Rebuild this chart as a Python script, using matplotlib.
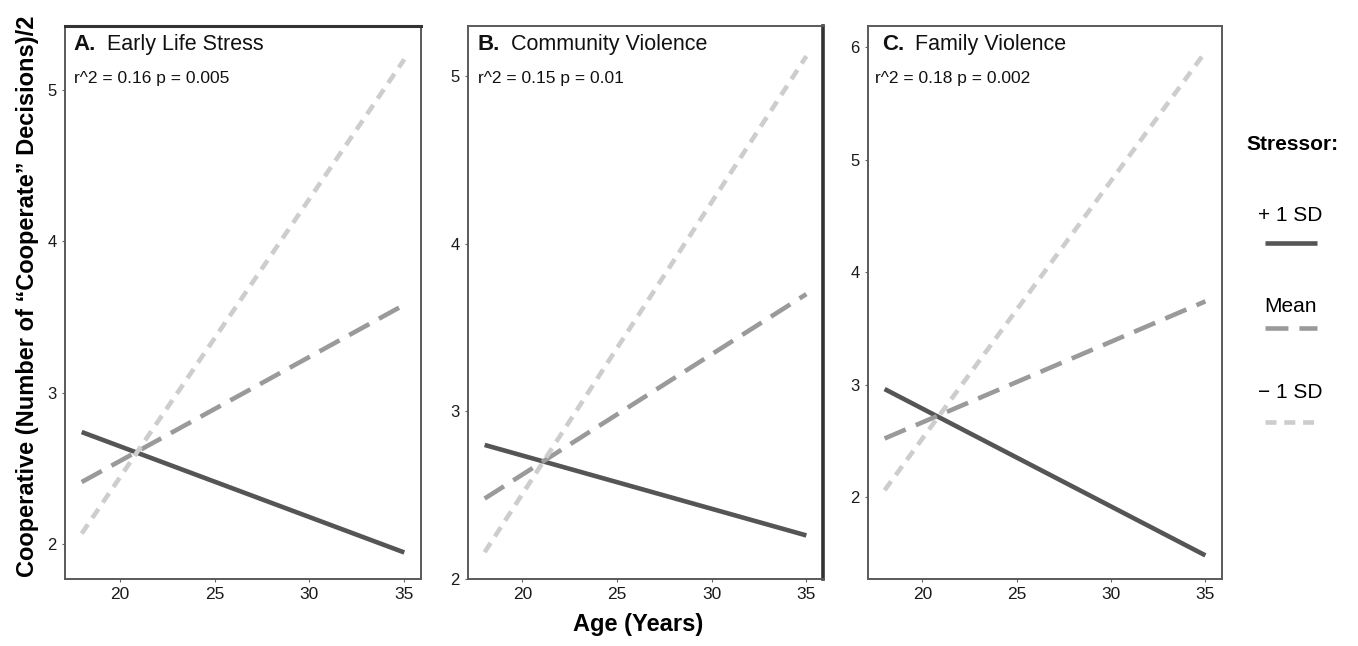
import matplotlib
matplotlib.use("Agg")
import matplotlib.pyplot as plt
import matplotlib.transforms as mtransforms
from matplotlib.lines import Line2D

plt.rcParams.update({
    "font.family": ["Liberation Sans", "DejaVu Sans"],
    "axes.edgecolor": "#5a5a5a",
    "axes.linewidth": 1.4,
    "xtick.color": "#666666",
    "ytick.color": "#666666",
    "xtick.labelcolor": "#1a1a1a",
    "ytick.labelcolor": "#1a1a1a",
    "xtick.labelsize": 12.5,
    "ytick.labelsize": 12,
    "xtick.major.size": 2.5,
    "ytick.major.size": 2.5,
})

# ── Data ──────────────────────────────────────────────────────────────────────
ages = [18, 35]

panel_letters = ["A.", "B.", "C."]
panel_names = ["Early Life Stress", "Community Violence", "Family Violence"]
panel_stats = ["r^2 = 0.16 p = 0.005", "r^2 = 0.15 p = 0.01", "r^2 = 0.18 p = 0.002"]

# predicted cooperation at age 18 and 35 for each stressor level
plus_sd  = [[2.74, 1.945], [2.80, 2.26], [2.96, 1.48]]
mean_sd  = [[2.41, 3.58],  [2.48, 3.70], [2.52, 3.74]]
minus_sd = [[2.07, 5.20],  [2.16, 5.12], [2.06, 5.96]]

level_labels = ["+ 1 SD", "Mean", "\u2212 1 SD"]
x_ticks = [20, 25, 30, 35]
y_ticks = [[2, 3, 4, 5], [2, 3, 4, 5], [2, 3, 4, 5, 6]]
y_limits = [(1.77, 5.42), (2.0, 5.30), (1.27, 6.19)]

# ── Styles ────────────────────────────────────────────────────────────────────
STYLES = [
    dict(color="#555555", lw=3.3, solid_capstyle="butt"),
    dict(color="#9a9a9a", lw=3.3, dashes=(5.0, 2.4), dash_capstyle="butt"),
    dict(color="#cdcdcd", lw=3.3, dashes=(2.4, 1.7), dash_capstyle="butt"),
]

fig = plt.figure(figsize=(13.58, 6.46), dpi=100)
W, H = 1358, 646
boxes = [(65, 421), (468, 823), (868, 1222)]
top_px, bot_px = 26, 579
text_x = [(0.025, 0.025), (0.028, 0.028), (0.039, 0.020)]

for i, (l, r) in enumerate(boxes):
    ax = fig.add_axes([l / W, 1 - bot_px / H, (r - l) / W, (bot_px - top_px) / H])
    for vals, st in zip([plus_sd[i], mean_sd[i], minus_sd[i]], STYLES):
        ax.plot(ages, vals, **st)
    ax.set_xlim(17.12, 35.88)
    ax.set_ylim(*y_limits[i])
    ax.set_xticks(x_ticks)
    ax.set_yticks(y_ticks[i])

    tx, sx = text_x[i]
    ax.text(tx, 0.957, panel_letters[i], transform=ax.transAxes,
            fontsize=16, fontweight="bold", va="baseline", color="#111111")
    off = mtransforms.offset_copy(ax.transAxes, fig=fig, x=33, y=0, units="dots")
    ax.text(tx, 0.957, panel_names[i], transform=off, fontsize=15.5,
            va="baseline", color="#111111")
    ax.text(sx, 0.897, panel_stats[i], transform=ax.transAxes, fontsize=12.5,
            va="baseline", color="#111111")

    if i == 0:
        ax.spines["top"].set_linewidth(2.2)
        ax.spines["top"].set_color("#333333")
    if i == 1:
        ax.spines["right"].set_linewidth(2.6)
        ax.spines["right"].set_color("#333333")

fig.text(28 / W, 1 - 296 / H,
         "Cooperative (Number of \u201cCooperate\u201d Decisions)/2",
         rotation=90, ha="center", va="center", fontsize=17, fontweight="bold")
fig.text(638 / W, 1 - 625 / H, "Age (Years)", ha="center", va="center",
         fontsize=17, fontweight="bold")

# ── Legend ────────────────────────────────────────────────────────────────────
fig.text(1292 / W, 1 - 145 / H, "Stressor:", ha="center", va="center",
         fontsize=15, fontweight="bold")
label_y = [215, 307, 393]
line_y = [243, 328, 422]
for lab, ly, yy, st in zip(level_labels, label_y, line_y, STYLES):
    fig.text(1290 / W, 1 - ly / H, lab, ha="center", va="center", fontsize=15)
    fig.add_artist(Line2D([1265 / W, 1317 / W], [1 - yy / H, 1 - yy / H],
                          transform=fig.transFigure, **st))

fig.savefig("out.png", dpi=100)
